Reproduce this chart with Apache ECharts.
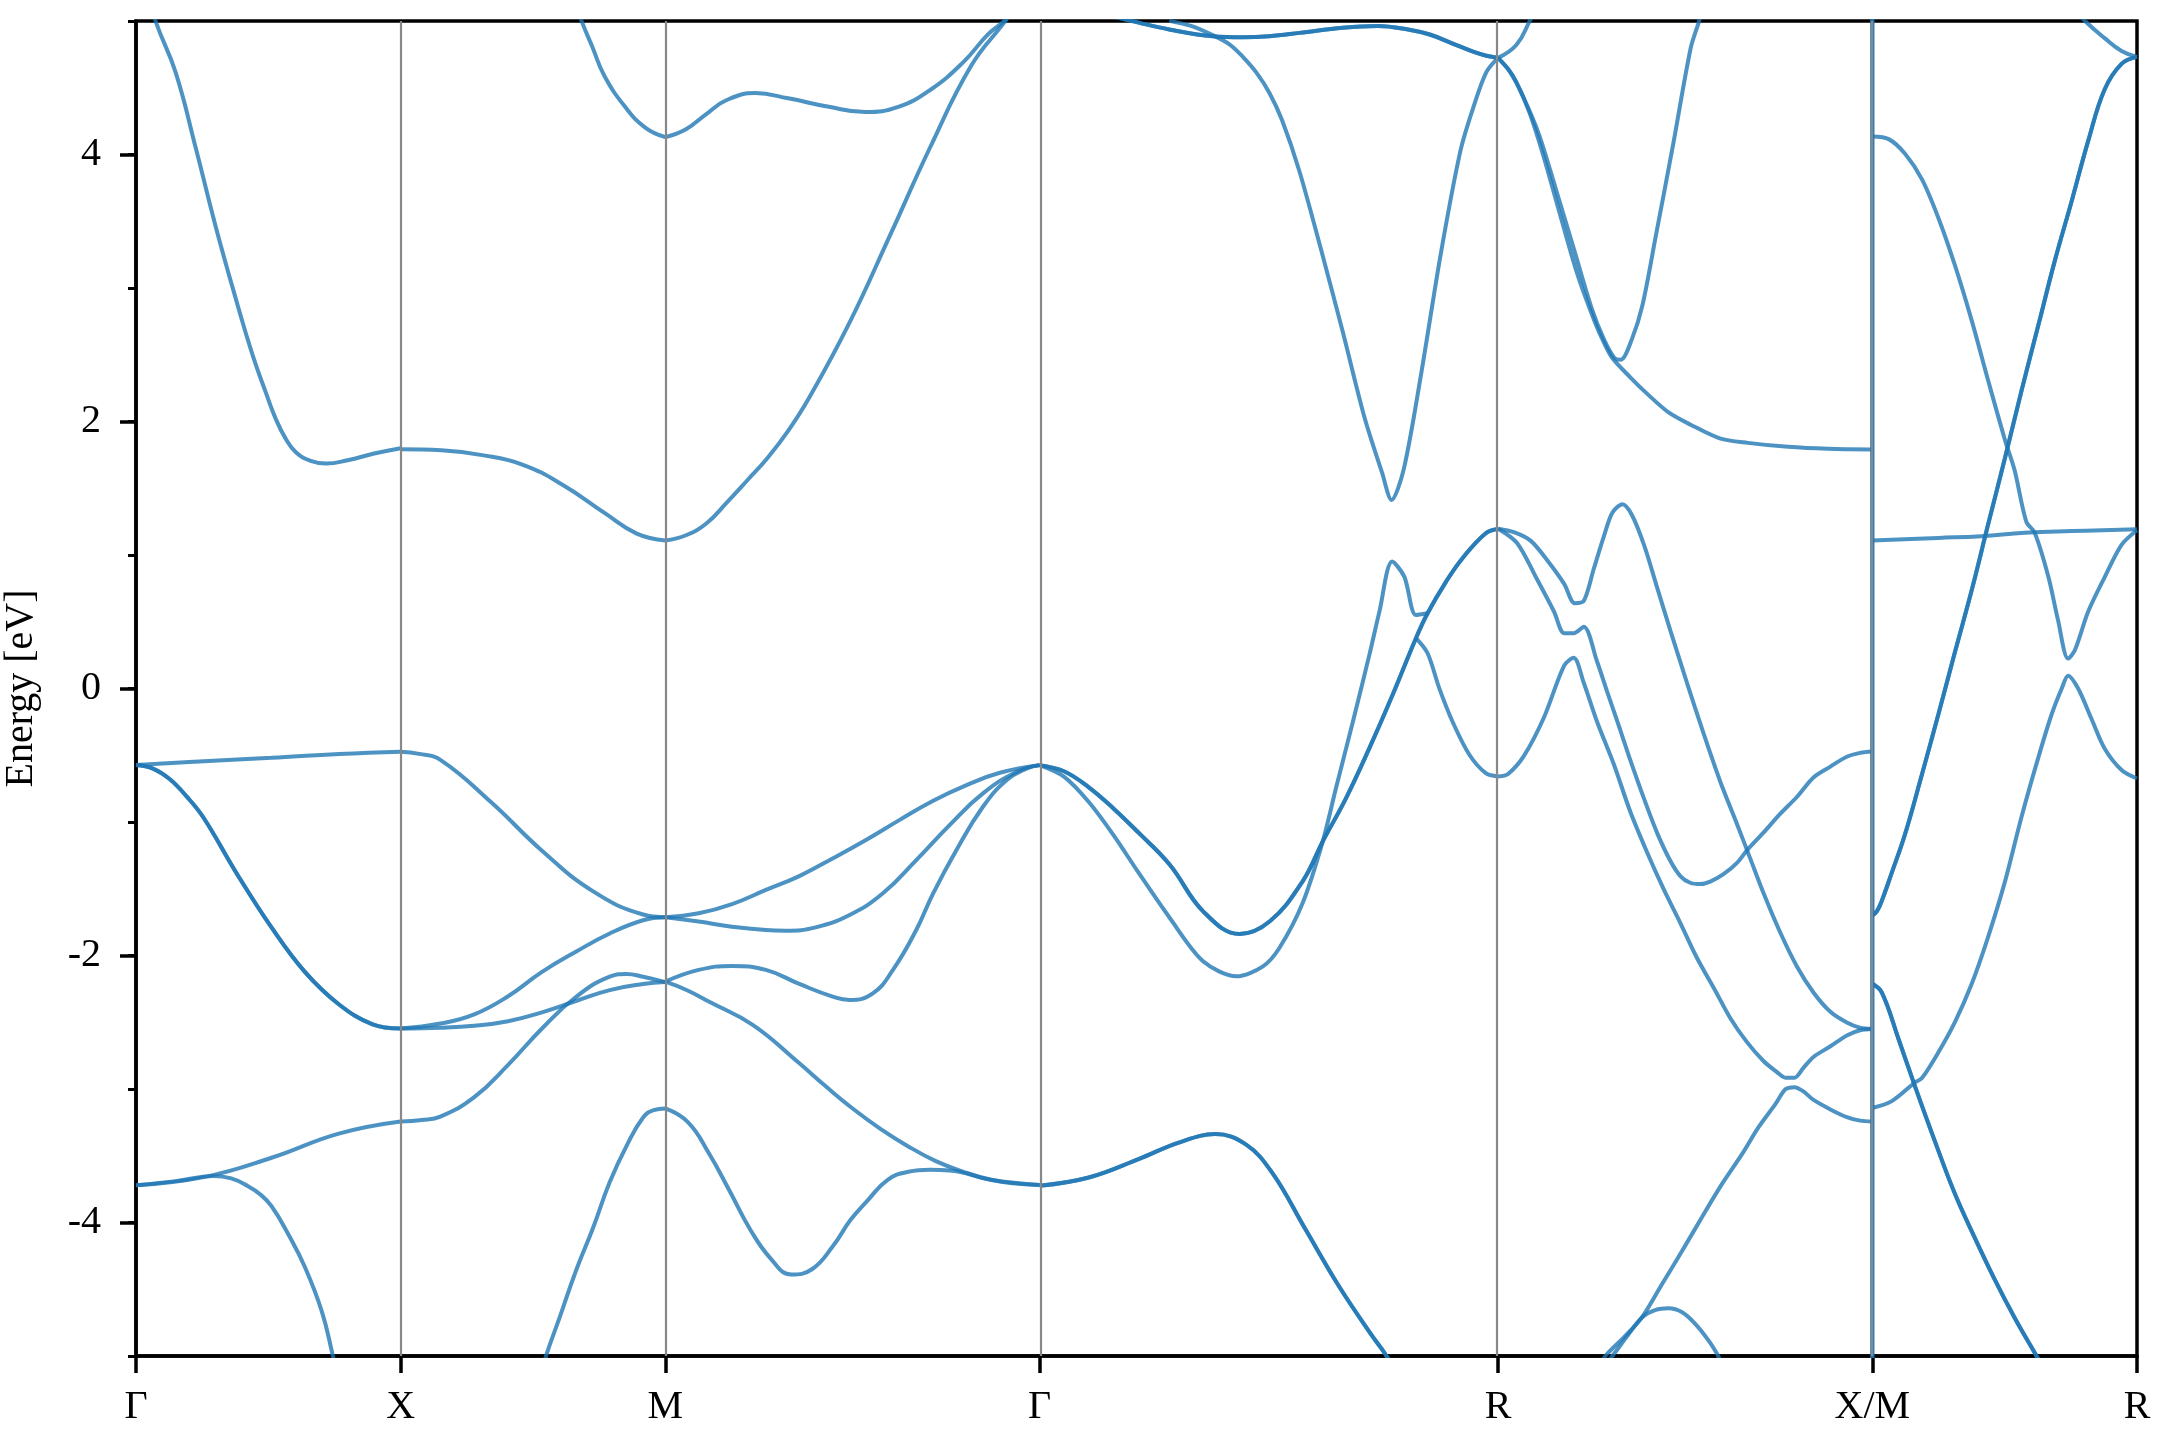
<!DOCTYPE html>
<html><head><meta charset="utf-8">
<script src="https://cdn.jsdelivr.net/npm/echarts@6/dist/echarts.min.js"></script>
<style>html,body{margin:0;padding:0;background:#fff}#c{width:2160px;height:1440px}</style>
</head><body><div id="c"></div>
<script>
// High-symmetry points (k-path distance, units of 2π/a) and labels
const kTicks  = [0, 0.5, 1.0, 1.7071, 2.5731, 3.2802, 3.7802];
const kLabels = ['Γ', 'X', 'M', 'Γ', 'R', 'X/M', 'R'];
const kGrid   = [0.5, 1.0, 1.7071, 2.5731, 3.2802];
const yMajor  = [-4, -2, 0, 2, 4];

// ---- band segments: [k, E (eV)] ----
// Γ–X
const gx1 = [[0.015,5.30],[0.038,4.988],[0.075,4.614],[0.113,4.047],[0.151,3.454],[0.189,2.913],[0.220,2.501],[0.245,2.22],[0.265,2.01],[0.283,1.87],[0.302,1.77],[0.330,1.705],[0.359,1.685],[0.400,1.71],[0.450,1.76],[0.5,1.80]];
const gx2 = [[0,-0.573],[0.128,-0.545],[0.256,-0.519],[0.384,-0.49],[0.5,-0.473]];
const gx3 = [[0,-0.573],[0.032,-0.60],[0.064,-0.68],[0.096,-0.81],[0.128,-0.97],[0.192,-1.397],[0.256,-1.79],[0.319,-2.123],[0.383,-2.365],[0.447,-2.516],[0.5,-2.547]];
const gx4 = [[0,-3.721],[0.128,-3.66],[0.256,-3.515],[0.383,-3.334],[0.5,-3.243]];
const gx5 = [[0,-3.721],[0.075,-3.69],[0.147,-3.651],[0.180,-3.67],[0.211,-3.727],[0.235,-3.79],[0.256,-3.878],[0.288,-4.09],[0.319,-4.333],[0.351,-4.665],[0.371,-4.983],[0.38,-5.15]];
// X–M
const xm1 = [[0.5,1.792],[0.577,1.784],[0.654,1.748],[0.731,1.676],[0.808,1.521],[0.885,1.315],[0.946,1.16],[1.0,1.109]];
const xm2 = [[0.5,-0.473],[0.535,-0.49],[0.575,-0.534],[0.671,-0.852],[0.767,-1.215],[0.863,-1.518],[0.958,-1.693],[1.0,-1.714]];
const xm3 = [[0.5,-2.547],[0.575,-2.51],[0.639,-2.441],[0.703,-2.305],[0.767,-2.123],[0.831,-1.972],[0.895,-1.835],[0.958,-1.736],[1.0,-1.714]];
const xm4 = [[0.5,-2.547],[0.575,-2.541],[0.639,-2.526],[0.703,-2.492],[0.767,-2.426],[0.831,-2.341],[0.895,-2.259],[0.958,-2.214],[1.0,-2.199]];
const xm5 = [[0.5,-3.243],[0.540,-3.232],[0.575,-3.207],[0.639,-3.061],[0.703,-2.819],[0.767,-2.547],[0.831,-2.311],[0.895,-2.159],[0.927,-2.138],[0.958,-2.159],[1.0,-2.199]];
const xm6 = [[0.767,-5.12],[0.776,-4.983],[0.799,-4.726],[0.831,-4.363],[0.863,-4.045],[0.895,-3.697],[0.927,-3.424],[0.958,-3.213],[0.978,-3.158],[1.0,-3.146]];
const xm7 = [[0.831,5.13],[0.843,4.988],[0.862,4.807],[0.885,4.588],[0.924,4.357],[0.962,4.202],[1.0,4.13]];
// M–Γ
const mg1 = [[1.0,4.13],[1.039,4.189],[1.078,4.305],[1.116,4.408],[1.170,4.460],[1.232,4.421],[1.309,4.357],[1.378,4.318],[1.440,4.357],[1.501,4.485],[1.563,4.692],[1.609,4.898],[1.640,5.001],[1.671,5.13]];
const mg2 = [[1.0,1.109],[1.039,1.148],[1.078,1.238],[1.116,1.392],[1.155,1.56],[1.193,1.727],[1.232,1.93],[1.270,2.166],[1.347,2.733],[1.424,3.390],[1.501,4.060],[1.578,4.666],[1.640,4.988],[1.671,5.155]];
const mg3 = [[1.0,-1.714],[1.063,-1.684],[1.126,-1.615],[1.190,-1.509],[1.253,-1.405],[1.316,-1.273],[1.379,-1.135],[1.442,-0.986],[1.506,-0.841],[1.569,-0.724],[1.632,-0.631],[1.7071,-0.574]];
const mg4 = [[1.0,-1.714],[1.063,-1.746],[1.126,-1.784],[1.190,-1.809],[1.227,-1.814],[1.284,-1.789],[1.348,-1.697],[1.411,-1.534],[1.474,-1.285],[1.537,-1.023],[1.600,-0.786],[1.664,-0.624],[1.7071,-0.574]];
const mg5 = [[1.0,-2.196],[1.063,-2.108],[1.126,-2.078],[1.190,-2.108],[1.253,-2.213],[1.316,-2.308],[1.348,-2.333],[1.392,-2.283],[1.430,-2.108],[1.474,-1.809],[1.506,-1.534],[1.550,-1.21],[1.600,-0.886],[1.645,-0.686],[1.683,-0.599],[1.7071,-0.574]];
const mg6 = [[1.0,-2.196],[1.041,-2.26],[1.082,-2.345],[1.165,-2.52],[1.251,-2.80],[1.303,-2.98],[1.355,-3.15],[1.407,-3.30],[1.459,-3.43],[1.511,-3.54],[1.563,-3.62],[1.615,-3.68],[1.667,-3.71],[1.7071,-3.72]];
const mg7 = [[1.0,-3.146],[1.043,-3.25],[1.082,-3.48],[1.121,-3.76],[1.160,-4.05],[1.199,-4.27],[1.238,-4.39],[1.277,-4.35],[1.316,-4.18],[1.350,-3.98],[1.381,-3.84],[1.420,-3.68],[1.459,-3.62],[1.500,-3.605],[1.537,-3.61],[1.615,-3.68],[1.7071,-3.72]];
// Γ–R
const gr1 = [[1.829,5.05],[1.894,4.988],[1.952,4.937],[2.034,4.886],[2.091,4.878],[2.141,4.886],[2.198,4.911],[2.280,4.950],[2.346,4.963],[2.403,4.937],[2.444,4.899],[2.485,4.835],[2.526,4.770],[2.551,4.740],[2.5731,4.724]];
const gr2 = [[1.952,5.001],[1.993,4.963],[2.034,4.894],[2.067,4.822],[2.091,4.732],[2.116,4.617],[2.141,4.463],[2.165,4.258],[2.198,3.873],[2.239,3.284],[2.280,2.668],[2.321,2.028],[2.354,1.617],[2.372,1.412],[2.395,1.643],[2.428,2.361],[2.465,3.258],[2.502,4.027],[2.526,4.348],[2.551,4.617],[2.5731,4.724]];
const gr3 = [[1.7071,-0.574],[1.753,-0.62],[1.800,-0.74],[1.847,-0.90],[1.894,-1.08],[1.953,-1.32],[2.016,-1.669],[2.085,-1.839],[2.142,-1.744],[2.204,-1.444],[2.242,-1.145],[2.286,-0.821],[2.330,-0.447],[2.374,-0.047],[2.418,0.377],[2.440,0.564],[2.475,0.801],[2.506,0.976],[2.550,1.163],[2.5731,1.195]];
const gr4 = [[1.7071,-0.574],[1.753,-0.66],[1.800,-0.85],[1.847,-1.10],[1.894,-1.38],[1.953,-1.719],[2.016,-2.043],[2.079,-2.156],[2.129,-2.081],[2.160,-1.944],[2.204,-1.607],[2.242,-1.145],[2.267,-0.746],[2.299,-0.247],[2.330,0.252],[2.349,0.576],[2.373,0.951],[2.396,0.838],[2.418,0.551],[2.440,0.564]];
const gr5 = [[2.418,0.377],[2.440,0.264],[2.462,0.003],[2.487,-0.247],[2.519,-0.496],[2.550,-0.634],[2.5731,-0.659]];
const gr6 = [[1.7071,-3.725],[1.800,-3.663],[1.894,-3.525],[1.970,-3.401],[2.039,-3.338],[2.096,-3.413],[2.146,-3.625],[2.209,-4.049],[2.272,-4.474],[2.335,-4.848],[2.360,-4.985],[2.377,-5.10]];
// R–X
const rx1 = [[2.5731,4.724],[2.608,4.822],[2.633,5.001],[2.645,5.10]];
const rx2 = [[2.5731,4.724],[2.592,4.642],[2.608,4.540],[2.633,4.309],[2.658,4.001],[2.691,3.540],[2.723,3.104],[2.756,2.745],[2.773,2.592],[2.789,2.476],[2.822,2.335],[2.855,2.207],[2.896,2.066],[2.937,1.976],[2.992,1.874],[3.045,1.84],[3.121,1.81],[3.196,1.795],[3.2802,1.79]];
const rx3 = [[2.5731,4.724],[2.596,4.617],[2.617,4.463],[2.650,4.155],[2.682,3.745],[2.717,3.284],[2.750,2.848],[2.773,2.617],[2.793,2.476],[2.805,2.463],[2.826,2.617],[2.846,2.873],[2.871,3.386],[2.904,4.078],[2.937,4.796],[2.953,5.001],[2.957,5.078]];
const rx4 = [[2.5731,1.197],[2.603,1.171],[2.635,1.106],[2.666,0.961],[2.698,0.784],[2.718,0.639],[2.735,0.655],[2.754,0.897],[2.773,1.139],[2.789,1.316],[2.808,1.380],[2.826,1.300],[2.849,1.074],[2.874,0.752],[2.899,0.430],[2.930,0.043],[2.962,-0.344],[2.993,-0.698],[3.025,-1.020],[3.050,-1.278],[3.075,-1.536],[3.106,-1.826],[3.138,-2.084],[3.169,-2.277],[3.201,-2.422],[3.232,-2.502],[3.257,-2.541],[3.2802,-2.551]];
const rx5 = [[2.5731,1.197],[2.609,1.090],[2.647,0.816],[2.679,0.575],[2.698,0.414],[2.716,0.414],[2.735,0.462],[2.760,0.204],[2.779,-0.021],[2.804,-0.311],[2.823,-0.537],[2.849,-0.827],[2.874,-1.085],[2.899,-1.294],[2.918,-1.407],[2.936,-1.455],[2.955,-1.465],[2.974,-1.446],[2.999,-1.391],[3.025,-1.304],[3.043,-1.214],[3.075,-1.078],[3.106,-0.940],[3.138,-0.811],[3.169,-0.666],[3.201,-0.585],[3.232,-0.511],[3.257,-0.482],[3.2802,-0.472]];
const rx6 = [[2.5731,-0.660],[2.592,-0.640],[2.622,-0.505],[2.660,-0.215],[2.698,0.172],[2.716,0.230],[2.735,0.043],[2.760,-0.247],[2.792,-0.569],[2.823,-0.923],[2.855,-1.230],[2.886,-1.503],[2.918,-1.761],[2.949,-2.019],[2.981,-2.245],[3.012,-2.470],[3.043,-2.647],[3.075,-2.792],[3.100,-2.873],[3.116,-2.915],[3.133,-2.915],[3.150,-2.841],[3.169,-2.760],[3.201,-2.680],[3.232,-2.599],[3.257,-2.560],[3.2802,-2.551]];
const rx7 = [[2.770,-5.035],[2.779,-4.985],[2.814,-4.848],[2.845,-4.711],[2.883,-4.461],[2.921,-4.212],[2.958,-3.962],[2.996,-3.713],[3.034,-3.488],[3.065,-3.288],[3.097,-3.114],[3.116,-3.002],[3.133,-2.986],[3.150,-3.018],[3.169,-3.082],[3.201,-3.153],[3.232,-3.211],[3.257,-3.237],[3.2802,-3.244]];
const rx8 = [[2.782,-5.035],[2.792,-4.985],[2.820,-4.835],[2.845,-4.711],[2.870,-4.656],[2.895,-4.643],[2.921,-4.673],[2.946,-4.761],[2.971,-4.885],[2.987,-4.985],[2.993,-5.035]];
// X/M jump
const jump = [[3.2802,5.3],[3.2802,-5.3]];
// M–R
const mr1 = [[3.2802,4.134],[3.311,4.115],[3.342,4.006],[3.374,3.814],[3.405,3.525],[3.436,3.173],[3.468,2.756],[3.499,2.307],[3.531,1.859],[3.549,1.634],[3.571,1.250],[3.587,1.166],[3.613,0.833],[3.631,0.512],[3.650,0.224],[3.663,0.288],[3.688,0.576],[3.719,0.833],[3.751,1.076],[3.7802,1.185]];
const mr2 = [[3.2802,1.109],[3.405,1.128],[3.486,1.141],[3.568,1.166],[3.657,1.179],[3.7802,1.192]];
const mr3 = [[3.2802,-1.700],[3.289,-1.668],[3.298,-1.591],[3.317,-1.379],[3.342,-1.091],[3.374,-0.642],[3.405,-0.193],[3.436,0.269],[3.468,0.737],[3.499,1.230],[3.531,1.730],[3.562,2.230],[3.594,2.724],[3.625,3.205],[3.657,3.654],[3.688,4.102],[3.719,4.487],[3.751,4.679],[3.7802,4.731]];
const mr4 = [[3.2802,-2.212],[3.298,-2.277],[3.330,-2.629],[3.361,-2.982],[3.399,-3.398],[3.436,-3.783],[3.474,-4.117],[3.511,-4.424],[3.549,-4.713],[3.587,-4.976],[3.600,-5.065]];
const mr5 = [[3.2802,-3.142],[3.317,-3.091],[3.361,-2.950],[3.374,-2.918],[3.405,-2.725],[3.436,-2.501],[3.468,-2.212],[3.499,-1.860],[3.531,-1.443],[3.562,-0.962],[3.594,-0.514],[3.619,-0.193],[3.638,0.0],[3.650,0.096],[3.669,0.0],[3.694,-0.225],[3.719,-0.449],[3.751,-0.610],[3.7802,-0.674]];
const mr6 = [[3.669,5.064],[3.682,5.0],[3.719,4.872],[3.751,4.776],[3.7802,4.731]];

// smooth curves and curves with sharp kinks; doubly-degenerate ones are drawn twice
const smoothBands = [gx1,gx2,gx4,gx5,xm1,xm2,xm3,xm4,xm5,xm6,xm7,mg1,mg2,mg3,mg4,mg5,mg6,mg7,rx1,mr2,mr6];
const kinkBands   = [gr2,gr4,gr5,rx2,rx3,rx4,rx5,rx6,rx7,rx8,mr1,mr5];
const doubleBands = [gx3,gr1,gr3,gr6,mr3,mr4,jump];

const FONT = "'Liberation Serif', 'Times New Roman', serif";
const BAND = {color:'#1f77b4', width:4, opacity:0.8};

const series = [{
  type:'line', data:[], z:1, silent:true,
  markLine:{silent:true, symbol:'none', animation:false, label:{show:false},
    lineStyle:{color:'#888888', width:2.2, type:'solid', opacity:1},
    data:kGrid.map(k=>({xAxis:k}))}
}];
function addBand(d, sm){
  series.push({type:'line', data:d, showSymbol:false, symbol:'none', smooth:sm,
    lineStyle:BAND, z:3, silent:true, clip:true});
}
smoothBands.forEach(d=>addBand(d,0.45));
kinkBands.forEach(d=>addBand(d,0.3));
doubleBands.forEach(d=>{addBand(d,0.4);addBand(d,0.4);});

const chart = echarts.init(document.getElementById('c'), null, {renderer:'canvas'});
chart.setOption({
  animation:false,
  backgroundColor:'#fff',
  grid:{left:136, right:23, top:21, bottom:84, containLabel:false, outerBoundsMode:'none',
    show:true, borderColor:'#000', borderWidth:3.5, backgroundColor:'transparent'},
  xAxis:{type:'value', min:0, max:kTicks[kTicks.length-1],
    axisLine:{show:true, onZero:false, lineStyle:{color:'#000', width:3.5}},
    axisTick:{show:true, customValues:kTicks, length:17, lineStyle:{color:'#000', width:3.5}},
    axisLabel:{show:true, customValues:kTicks, margin:31, fontFamily:FONT, fontSize:40, color:'#000',
      formatter:v=>{const i=kTicks.findIndex(t=>Math.abs(t-v)<1e-6); return i>=0?kLabels[i]:'';}},
    splitLine:{show:false}},
  yAxis:[
    {type:'value', min:-5, max:5, interval:1, position:'left',
      name:'Energy [eV]', nameLocation:'middle', nameGap:95,
      nameTextStyle:{fontFamily:FONT, fontSize:40, color:'#000'},
      axisLine:{show:true, onZero:false, lineStyle:{color:'#000', width:3.5}},
      axisTick:{show:true, length:8, lineStyle:{color:'#000', width:3}},
      axisLabel:{show:false}, splitLine:{show:false}},
    {type:'value', min:-5, max:5, position:'left',
      axisLine:{show:false},
      axisTick:{show:true, customValues:yMajor, length:16, lineStyle:{color:'#000', width:3.5}},
      axisLabel:{show:true, customValues:yMajor, margin:35, fontFamily:FONT, fontSize:40, color:'#000',
        formatter:v=>String(v)},
      splitLine:{show:false}}
  ],
  series:series
});
</script></body></html>
